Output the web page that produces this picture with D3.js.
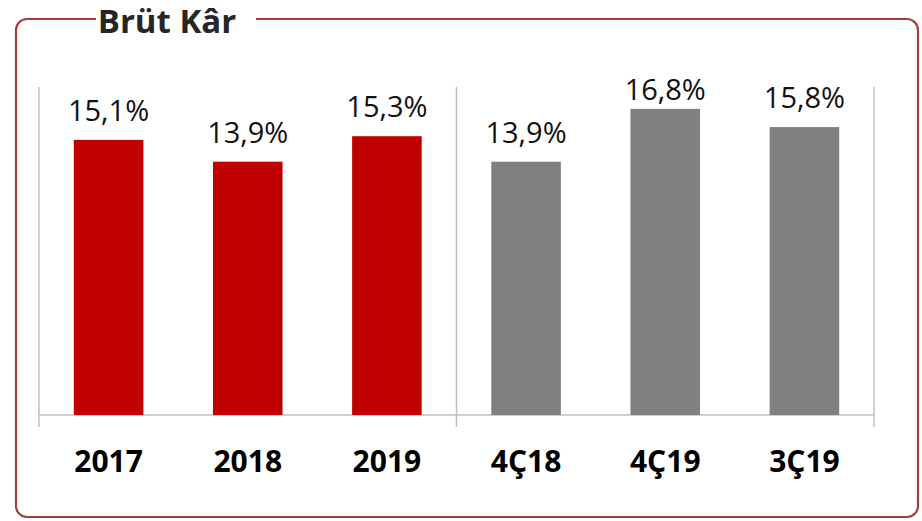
<!DOCTYPE html>
<html><head><meta charset="utf-8">
<script src="https://cdn.jsdelivr.net/npm/d3@7"></script>
<style>html,body{margin:0;padding:0;background:#fff;}svg{display:block;}</style>
</head><body>
<script>
const title = "Brüt Kâr";
const categories = ["2017", "2018", "2019", "4Ç18", "4Ç19", "3Ç19"];
const values = [15.1, 13.9, 15.3, 13.9, 16.8, 15.8];
const valueLabels = ["15,1%", "13,9%", "15,3%", "13,9%", "16,8%", "15,8%"];
const groups = ["annual", "annual", "annual", "quarter", "quarter", "quarter"];
const groupColors = {annual: "#c00000", quarter: "#808080"};

const W = 922, H = 521;
const svg = d3.select("body").append("svg").attr("width", W).attr("height", H);

// frame
const fx = 16, fy = 19, fw = 902, fh = 498, r = 11;
const frameColor = "#a3403f";
const path = d3.path();
path.moveTo(96, fy);
path.lineTo(fx + r, fy);
path.arcTo(fx, fy, fx, fy + r, r);
path.lineTo(fx, fy + fh - r);
path.arcTo(fx, fy + fh, fx + r, fy + fh, r);
path.lineTo(fx + fw - r, fy + fh);
path.arcTo(fx + fw, fy + fh, fx + fw, fy + fh - r, r);
path.lineTo(fx + fw, fy + r);
path.arcTo(fx + fw, fy, fx + fw - r, fy, r);
path.lineTo(256, fy);
svg.append("path").attr("d", path.toString()).attr("fill", "none")
  .attr("stroke", frameColor).attr("stroke-width", 2.2);

svg.append("text").attr("x", 167).attr("y", 33).attr("text-anchor", "middle")
  .attr("font-family", "Open Sans").attr("font-weight", "bold").attr("font-size", 33)
  .attr("fill", "#262626").text(title);

const x = d3.scaleBand().domain(categories).range([39, 874]).paddingInner(0.5).paddingOuter(0.25);
const y = d3.scaleLinear().domain([0, 18]).range([415, 87]);

const axisColor = "#bfbfbf";
// baseline
svg.append("line").attr("x1", 39).attr("x2", 874).attr("y1", y(0)).attr("y2", y(0))
  .attr("stroke", axisColor).attr("stroke-width", 1.5);
// vertical dividers: left, between groups, right
const dividers = [x.range()[0], x.range()[0] + x.step() * 3, x.range()[1]];
svg.selectAll("line.div").data(dividers).enter().append("line")
  .attr("x1", d => d).attr("x2", d => d).attr("y1", y(18)).attr("y2", y(0) + 12)
  .attr("stroke", axisColor).attr("stroke-width", 1.5);

svg.selectAll("rect.bar").data(values).enter().append("rect")
  .attr("x", (d, i) => x(categories[i]))
  .attr("width", x.bandwidth())
  .attr("y", d => y(d))
  .attr("height", d => y(0) - y(d))
  .attr("fill", (d, i) => groupColors[groups[i]]);

svg.selectAll("text.val").data(values).enter().append("text")
  .attr("x", (d, i) => x(categories[i]) + x.bandwidth() / 2)
  .attr("y", d => Math.max(y(d) - 19, y(18) + 13))
  .attr("text-anchor", "middle")
  .attr("font-family", "Open Sans").attr("font-size", 29)
  .attr("fill", "#111")
  .text((d, i) => valueLabels[i]);

svg.selectAll("text.cat").data(categories).enter().append("text")
  .attr("x", d => x(d) + x.bandwidth() / 2)
  .attr("y", 472)
  .attr("text-anchor", "middle")
  .attr("font-family", "Open Sans").attr("font-weight", "bold").attr("font-size", 30)
  .attr("fill", "#000")
  .text(d => d);
</script>
</body></html>
